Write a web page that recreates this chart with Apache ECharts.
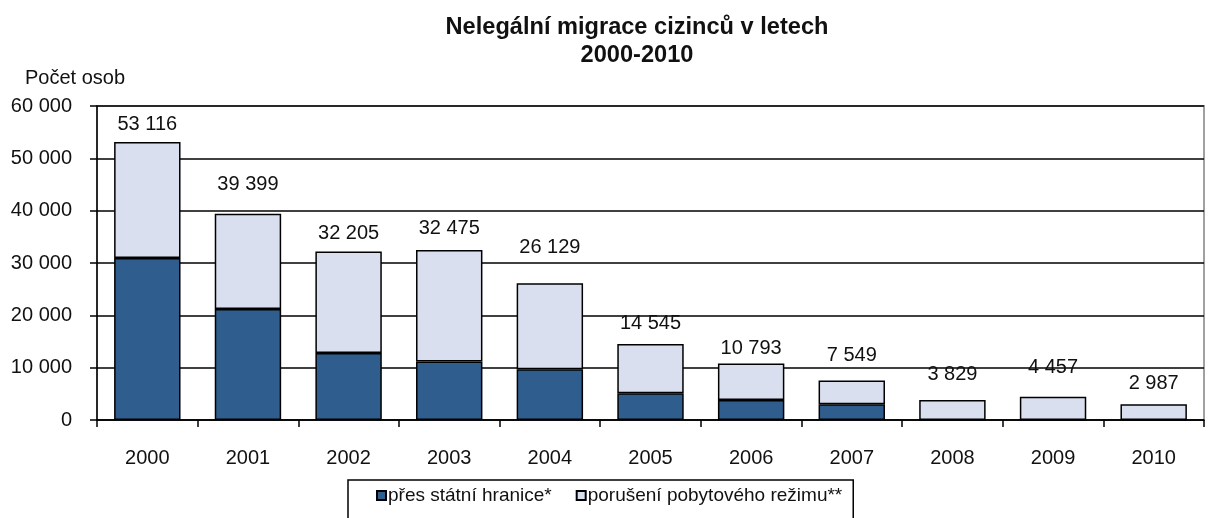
<!DOCTYPE html>
<html>
<head>
<meta charset="utf-8">
<script src="https://cdn.jsdelivr.net/npm/echarts@6/dist/echarts.min.js"></script>
<style>html,body{margin:0;padding:0;background:#fff}#c{width:1210px;height:518px}</style>
</head>
<body>
<div id="c"></div>
<script>
// Data
var years = ['2000','2001','2002','2003','2004','2005','2006','2007','2008','2009','2010'];
var totals = [53116, 39399, 32205, 32475, 26129, 14545, 10793, 7549, 3829, 4457, 2987];
var borderCrossing = [30950, 21200, 12800, 11200, 9700, 5100, 3800, 3000, 0, 0, 0];
var residenceViolation = [22166, 18199, 19405, 21275, 16429, 9445, 6993, 4549, 3829, 4457, 2987];
var yTicks = ['0', '10 000', '20 000', '30 000', '40 000', '50 000', '60 000'];
var seriesNames = ['přes státní hranice*', 'porušení pobytového režimu**'];

// Label placement (style only)
var labelDistance = [8, 19, 8, 12, 26, 10, 5, 15, 15, 19, 11];

function fmt(v) { return String(v).replace(/\B(?=(\d{3})+(?!\d))/g, ' '); }

var font = '"Liberation Sans", Arial, sans-serif';
var chart = echarts.init(document.getElementById('c'), null, {renderer: 'canvas'});
chart.setOption({
  animation: false,
  backgroundColor: '#fff',
  title: {
    text: 'Nelegální migrace cizinců v letech\n2000-2010',
    left: 632, top: 8, textAlign: 'center',
    textStyle: {fontFamily: font, fontSize: 23.6, fontWeight: 'bold', color: '#111', lineHeight: 28}
  },
  grid: {left: 97, right: 6, top: 106, bottom: 98, show: true, borderColor: '#a0a0a0', borderWidth: 2, backgroundColor: 'transparent'},
  legend: {
    data: seriesNames,
    left: 348, top: 480,
    padding: [6, 11, 40, 28],
    borderColor: '#000', borderWidth: 1.5,
    itemWidth: 9, itemHeight: 9, itemGap: 24,
    icon: 'rect',
    textStyle: {fontFamily: font, fontSize: 19, color: '#111', padding: [0, 0, 0, -3]}
  },
  xAxis: {
    type: 'category', data: years,
    axisLine: {lineStyle: {color: '#000', width: 1.5}},
    axisTick: {show: true, length: 7, lineStyle: {color: '#000', width: 1.5}},
    axisLabel: {fontFamily: font, fontSize: 20, color: '#111', margin: 28}
  },
  yAxis: {
    type: 'value', min: 0, max: 60000, interval: 10000,
    name: 'Počet osob',
    nameLocation: 'end', nameGap: 18,
    nameTextStyle: {fontFamily: font, fontSize: 20, color: '#111', align: 'left', padding: [0, 0, 0, -72]},
    axisLine: {show: true, lineStyle: {color: '#000', width: 1.5}},
    axisTick: {show: true, length: 7, lineStyle: {color: '#000', width: 1.5}},
    splitLine: {show: true, lineStyle: {color: '#000', width: 1.5}},
    axisLabel: {fontFamily: font, fontSize: 20, color: '#111', margin: 25,
      formatter: function (v) { return yTicks[Math.round(v / 10000)]; }}
  },
  series: [
    {
      name: seriesNames[0], type: 'bar', stack: 'a', barCategoryGap: '34%',
      data: borderCrossing,
      itemStyle: {color: '#2f5e8e', borderColor: '#000', borderWidth: 1.5}
    },
    {
      name: seriesNames[1], type: 'bar', stack: 'a', barCategoryGap: '34%',
      data: residenceViolation.map(function (v, i) {
        return {value: v, label: {distance: labelDistance[i]}};
      }),
      itemStyle: {color: '#d9dfee', borderColor: '#000', borderWidth: 1.5},
      label: {
        show: true, position: 'top',
        fontFamily: font, fontSize: 20, color: '#111',
        formatter: function (p) { return fmt(totals[p.dataIndex]); }
      }
    }
  ]
});
</script>
</body>
</html>
